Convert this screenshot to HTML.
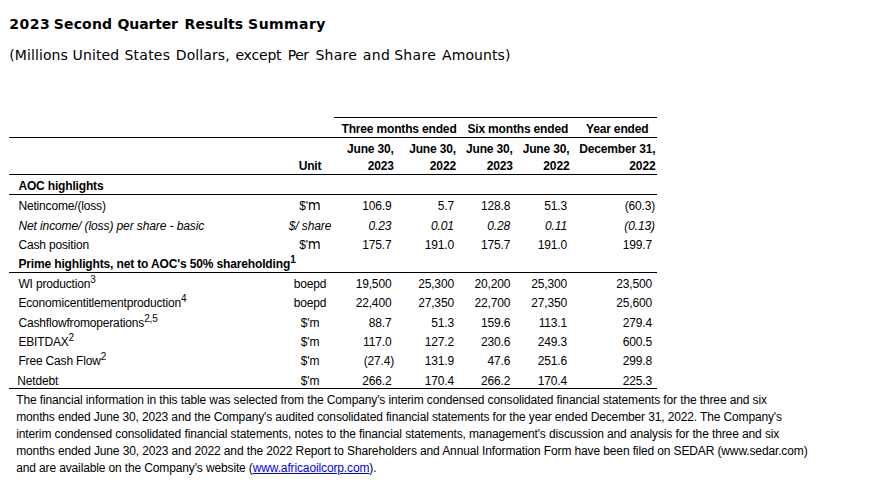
<!DOCTYPE html>
<html lang="en">
<head>
<meta charset="utf-8">
<title>2023 Second Quarter Results Summary</title>
<style>
html,body{margin:0;padding:0;background:#fff;}
body{width:886px;height:488px;position:relative;overflow:hidden;color:#000;
 font-family:"Liberation Sans",Arial,sans-serif;font-size:12px;letter-spacing:-0.165px;}
.t{position:absolute;white-space:nowrap;line-height:14px;margin:0;}
.v{font-family:"DejaVu Sans",Verdana,sans-serif;font-size:14px;line-height:16px;}
.b{font-weight:bold;}
.i{font-style:italic;letter-spacing:-0.1px;}
.ln{position:absolute;height:1px;background:#000;}
.r{position:absolute;left:0;width:886px;height:14px;}
.r span.t{top:0;}
.v span.t{line-height:16px;}
.l{left:18.4px;}
.u{left:260px;width:100px;text-align:center;}
.c1{right:494.6px;} .c2{right:432.1px;} .c3{right:375.8px;} .c4{right:319px;} .c5{right:234px;}
.p5{right:231px;}
sup{font-size:10px;line-height:0;vertical-align:4.7px;}
.vm{font-family:"DejaVu Sans",Verdana,sans-serif;font-size:13.33px;letter-spacing:0;}
.ap{font-size:12px;letter-spacing:-0.35px;}
p.t{left:16.2px;line-height:17px;white-space:nowrap;letter-spacing:-0.134px;}
a{color:#00f;text-decoration:underline;}
</style>
</head>
<body>
<div class="r v b" id="h1" style="top:16px;">
 <span class="t" style="left:9.2px;letter-spacing:0.5px;">2023</span>
 <span class="t" style="left:53.8px;letter-spacing:0.15px;">Second</span>
 <span class="t" style="left:117.6px;letter-spacing:-0.15px;">Quarter</span>
 <span class="t" style="left:184.6px;letter-spacing:0.03px;">Results</span>
 <span class="t" style="left:248.1px;letter-spacing:0.45px;">Summary</span>
</div>
<div class="r v" id="h2" style="top:46.7px;">
 <span class="t" style="left:9.2px;letter-spacing:0.1px;">(Millions</span>
 <span class="t" style="left:72.5px;letter-spacing:0.14px;">United</span>
 <span class="t" style="left:124.4px;letter-spacing:0.26px;">States</span>
 <span class="t" style="left:175.8px;letter-spacing:0.09px;">Dollars,</span>
 <span class="t" style="left:235.4px;letter-spacing:-0.18px;">except</span>
 <span class="t" style="left:287.7px;letter-spacing:-0.5px;">Per</span>
 <span class="t" style="left:315.5px;letter-spacing:0.22px;">Share</span>
 <span class="t" style="left:362.7px;letter-spacing:0.4px;">and</span>
 <span class="t" style="left:394.2px;letter-spacing:0.3px;">Share</span>
 <span class="t" style="left:442px;letter-spacing:0.1px;">Amounts)</span>
</div>

<div class="ln" style="left:334px;top:117px;width:323px;"></div>
<div class="ln" style="left:9px;top:137px;width:648px;"></div>
<div class="ln" style="left:9px;top:174px;width:648px;"></div>
<div class="ln" style="left:9px;top:194px;width:648px;"></div>
<div class="ln" style="left:9px;top:272px;width:648px;"></div>
<div class="ln" style="left:9px;top:388px;width:648px;"></div>

<div class="r b" style="top:121.6px;">
 <span class="t" id="g1" style="left:341.5px;">Three months ended</span>
 <span class="t" id="g2" style="left:467.4px;">Six months ended</span>
 <span class="t" id="g3" style="left:586px;">Year ended</span>
</div>
<div class="r b" style="top:141.6px;">
 <span class="t c1" id="d1" style="right:492.3px;">June 30,</span>
 <span class="t c2" style="right:430.1px;">June 30,</span>
 <span class="t c3" style="right:373.3px;">June 30,</span>
 <span class="t c4" style="right:316.6px;">June 30,</span>
 <span class="t c5" style="right:230.6px;">December 31,</span>
</div>
<div class="r b" style="top:158.6px;">
 <span class="t u" id="unit">Unit</span>
 <span class="t" id="y1" style="right:492.3px;">2023</span>
 <span class="t" style="right:430.1px;">2022</span>
 <span class="t" style="right:373.3px;">2023</span>
 <span class="t" style="right:316.6px;">2022</span>
 <span class="t" style="right:230.6px;">2022</span>
</div>

<div class="r b" style="top:178.6px;"><span class="t l" id="r1">AOC highlights</span></div>

<div class="r" style="top:198.9px;">
 <span class="t l" id="r2">Netincome/(loss)</span>
 <span class="t u" id="u2">$<span class="ap">'</span><span class="vm">m</span></span>
 <span class="t c1" id="r2c1">106.9</span><span class="t c2">5.7</span><span class="t c3">128.8</span><span class="t c4">51.3</span><span class="t p5" id="r2c5">(60.3)</span>
</div>
<div class="r i" style="top:218.7px;">
 <span class="t l" id="r3">Net income/ (loss) per share - basic</span>
 <span class="t u" id="u3">$/ share</span>
 <span class="t c1">0.23</span><span class="t c2">0.01</span><span class="t c3">0.28</span><span class="t c4">0.11</span><span class="t p5">(0.13)</span>
</div>
<div class="r" style="top:237.6px;">
 <span class="t l" id="r4">Cash position</span>
 <span class="t u">$<span class="ap">'</span><span class="vm">m</span></span>
 <span class="t c1">175.7</span><span class="t c2">191.0</span><span class="t c3">175.7</span><span class="t c4">191.0</span><span class="t c5" id="r4c5">199.7</span>
</div>

<div class="r b" style="top:256.6px;"><span class="t l" id="r5" style="letter-spacing:-0.143px;">Prime highlights, net to AOC's 50% shareholding<sup>1</sup></span></div>

<div class="r" style="top:277.2px;">
 <span class="t l" id="r6">WI production<sup>3</sup></span>
 <span class="t u" id="u6">boepd</span>
 <span class="t c1">19,500</span><span class="t c2">25,300</span><span class="t c3">20,200</span><span class="t c4">25,300</span><span class="t c5">23,500</span>
</div>
<div class="r" style="top:296.2px;">
 <span class="t l" id="r7">Economicentitlementproduction<sup>4</sup></span>
 <span class="t u">boepd</span>
 <span class="t c1">22,400</span><span class="t c2">27,350</span><span class="t c3">22,700</span><span class="t c4">27,350</span><span class="t c5">25,600</span>
</div>
<div class="r" style="top:315.7px;">
 <span class="t l" id="r8">Cashflowfromoperations<sup>2,5</sup></span>
 <span class="t u">$'m</span>
 <span class="t c1">88.7</span><span class="t c2">51.3</span><span class="t c3">159.6</span><span class="t c4">113.1</span><span class="t c5">279.4</span>
</div>
<div class="r" style="top:334.9px;">
 <span class="t l" id="r9">EBITDAX<sup>2</sup></span>
 <span class="t u">$'m</span>
 <span class="t c1">117.0</span><span class="t c2">127.2</span><span class="t c3">230.6</span><span class="t c4">249.3</span><span class="t c5">600.5</span>
</div>
<div class="r" style="top:354.2px;">
 <span class="t l" id="r10">Free Cash Flow<sup>2</sup></span>
 <span class="t u">$'m</span>
 <span class="t" style="right:492px;">(27.4)</span><span class="t c2">131.9</span><span class="t c3">47.6</span><span class="t c4">251.6</span><span class="t c5">299.8</span>
</div>
<div class="r" style="top:373.9px;">
 <span class="t" id="r11" style="left:17.3px;">Netdebt</span>
 <span class="t u">$'m</span>
 <span class="t c1">266.2</span><span class="t c2">170.4</span><span class="t c3">266.2</span><span class="t c4">170.4</span><span class="t c5">225.3</span>
</div>

<p class="t" id="para" style="top:391.6px;"><span style="word-spacing:0.07px;">The financial information in this table was selected from the Company's interim condensed consolidated financial statements for the three and six</span><br>
months ended June 30, 2023 and the Company's audited consolidated financial statements for the year ended December 31, 2022. The Company's<br>
<span style="word-spacing:0.1px;">interim condensed consolidated financial statements, notes to the financial statements, management's discussion and analysis for the three and six</span><br>
<span style="word-spacing:0.04px;">months ended June 30, 2023 and 2022 and the 2022 Report to Shareholders and Annual Information Form have been filed on SEDAR (www.sedar.com)</span><br>
and are available on the Company's website (<a>www.africaoilcorp.com</a>).</p>
</body>
</html>
